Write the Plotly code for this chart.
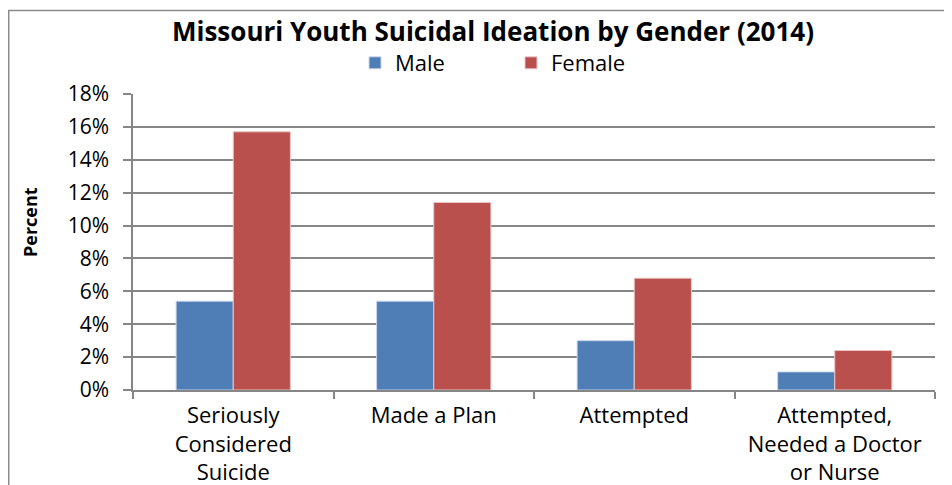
import plotly.graph_objects as go

categories = ["Seriously<br>Considered<br>Suicide", "Made a Plan", "Attempted",
              "Attempted,<br>Needed a Doctor<br>or Nurse"]
male = [0.054, 0.054, 0.030, 0.011]
female = [0.157, 0.114, 0.068, 0.024]
y_ticks = [0, 0.02, 0.04, 0.06, 0.08, 0.10, 0.12, 0.14, 0.16, 0.18]

# page has an 8px body margin, so figure coords = page coords - 8
W, H = 944, 477
L, R, T, B = 125, 17, 86, 95
PW, PH = W - L - R, H - T - B

FONT = "Open Sans"

fig = go.Figure()
fig.add_trace(go.Bar(name="Male", x=categories, y=male,
                     marker=dict(color="#4F7DB5", line=dict(color="#C9D6EA", width=1))))
fig.add_trace(go.Bar(name="Female", x=categories, y=female,
                     marker=dict(color="#B9504D", line=dict(color="#E8C6C5", width=1))))

fig.update_layout(
    width=W, height=H,
    margin=dict(l=L, r=R, t=T, b=B, autoexpand=False),
    paper_bgcolor="white", plot_bgcolor="white",
    barmode="group", bargap=0.43, bargroupgap=0,
    font=dict(family=FONT, color="black"),
    title=dict(text="<b>Missouri Youth Suicidal Ideation by Gender (2014)</b>",
               x=485 / W, xanchor="center", xref="container",
               y=1 - 24 / H, yanchor="middle", yref="container",
               font=dict(size=26, family=FONT, color="black")),
    legend=dict(orientation="h", x=(347 - L) / PW, xanchor="left",
                y=(H - B - 55) / PH, yanchor="middle",
                font=dict(size=22, family=FONT), traceorder="normal",
                entrywidth=111, entrywidthmode="pixels", bgcolor="rgba(0,0,0,0)"),
    showlegend=True,
    xaxis=dict(showline=True, linecolor="#868686", linewidth=1.5, ticks="outside",
               tickson="boundaries", ticklen=7, tickcolor="#868686", tickwidth=1.5,
               tickfont=dict(size=22, family=FONT), showgrid=False, ticklabelstandoff=5),
    yaxis=dict(range=[0, 0.18], tickvals=y_ticks, tickformat=".0%",
               showline=True, linecolor="#868686", linewidth=1.5,
               ticks="outside", ticklen=8, tickcolor="#868686", tickwidth=1.5,
               gridcolor="#868686", gridwidth=1.5, zeroline=False,
               tickfont=dict(size=21, family=FONT), ticklabelstandoff=10),
    annotations=[dict(text="<b>Percent</b>", textangle=-90, xref="paper", yref="paper",
                      x=(22 - L) / PW, y=(H - B - 214) / PH, xanchor="center", yanchor="middle",
                      showarrow=False, font=dict(size=18, family=FONT, color="black"))],
    shapes=[dict(type="rect", xref="paper", yref="paper",
                 x0=-(L - 0.75) / PW, x1=1 + (R + 20) / PW,
                 y0=-(B + 20) / PH, y1=1 + (T - 2.5) / PH,
                 line=dict(color="#8C8C8C", width=1.5))],
)
fig.write_html("out.html")
